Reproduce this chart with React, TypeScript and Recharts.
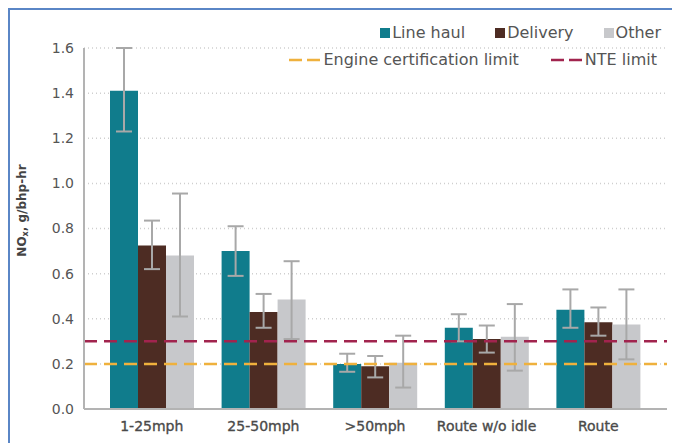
import React from 'react';
import { BarChart, Bar, XAxis, YAxis, CartesianGrid, ReferenceLine, ErrorBar } from 'recharts';

const categories = ['1-25mph', '25-50mph', '>50mph', 'Route w/o idle', 'Route'];
const yTicks = [0, 0.2, 0.4, 0.6, 0.8, 1.0, 1.2, 1.4, 1.6];

const lineHaul = [1.41, 0.70, 0.20, 0.36, 0.44];
const lineHaulLow = [1.23, 0.59, 0.165, 0.30, 0.36];
const lineHaulHigh = [1.60, 0.81, 0.245, 0.42, 0.53];

const delivery = [0.725, 0.43, 0.19, 0.31, 0.385];
const deliveryLow = [0.62, 0.36, 0.14, 0.25, 0.325];
const deliveryHigh = [0.835, 0.51, 0.235, 0.37, 0.45];

const other = [0.68, 0.485, 0.205, 0.32, 0.375];
const otherLow = [0.41, 0.31, 0.095, 0.17, 0.22];
const otherHigh = [0.955, 0.655, 0.325, 0.465, 0.53];

const engineLimit = 0.2;
const nteLimit = 0.3;

const C_LH = '#107c8c';
const C_DEL = '#4d2c23';
const C_OTH = '#c7c8cb';
const C_ENG = '#efb13d';
const C_NTE = '#a1244e';
const C_ERR = '#a8a8a8';
const FONT = '"DejaVu Sans", sans-serif';

const data = categories.map((c, i) => ({
  name: c,
  lh: lineHaul[i],
  lhErr: [lineHaul[i] - lineHaulLow[i], lineHaulHigh[i] - lineHaul[i]],
  del: delivery[i],
  delErr: [delivery[i] - deliveryLow[i], deliveryHigh[i] - delivery[i]],
  oth: other[i],
  othErr: [other[i] - otherLow[i], otherHigh[i] - other[i]],
}));

const txt: React.CSSProperties = { fontFamily: FONT, fontSize: 16, color: '#555', lineHeight: '18px', whiteSpace: 'nowrap' };

const LegendOverlay = () => (
  <div style={{ position: 'absolute', left: 0, top: 0, width: 672, height: 60, zIndex: 1, pointerEvents: 'none' }}>
    <div style={{ position: 'absolute', right: 19, top: 16, display: 'flex', alignItems: 'center', ...txt }}>
      {[['Line haul', C_LH], ['Delivery', C_DEL], ['Other', C_OTH]].map(([l, c], i) => (
        <div key={l} style={{ display: 'flex', alignItems: 'center', marginLeft: i ? 30 : 0 }}>
          <div style={{ width: 10, height: 10, background: c, marginRight: 2 }} />
          <span>{l}</span>
        </div>
      ))}
    </div>
    <div style={{ position: 'absolute', right: 23, top: 43, display: 'flex', alignItems: 'center', ...txt }}>
      {[['Engine certification limit', C_ENG], ['NTE limit', C_NTE]].map(([l, c], i) => (
        <div key={l} style={{ display: 'flex', alignItems: 'center', marginLeft: i ? 32 : 0 }}>
          <svg width={31} height={6} style={{ marginRight: 3 }}>
            <line x1={0} y1={3} x2={31} y2={3} stroke={c} strokeWidth={2.5} strokeDasharray="13 5" />
          </svg>
          <span>{l}</span>
        </div>
      ))}
    </div>
  </div>
);

const YLabel = (props: any) => {
  const vb = props.viewBox || { x: 0, y: 40, width: 76, height: 361 };
  const cx = vb.x + 14;
  const cy = vb.y + vb.height / 2 - 18;
  return (
    <text
      x={0}
      y={0}
      transform={`translate(${cx},${cy}) rotate(-90)`}
      textAnchor="middle"
      dominantBaseline="middle"
      fontFamily={FONT}
      fontSize={12}
      fontWeight={600}
      fill="#444"
    >
      NO<tspan fontSize={8} dy={3}>x</tspan>
      <tspan dy={-3}>, g/bhp-hr</tspan>
    </text>
  );
};

export default function App() {
  return (
    <div style={{ position: 'relative', width: 672, height: 435 }}>
      <div
        style={{
          position: 'absolute',
          left: 0,
          top: 0,
          width: 700,
          height: 460,
          borderTop: '2px solid #5a86c6',
          borderLeft: '2px solid #5a86c6',
          pointerEvents: 'none',
          zIndex: 2,
        }}
      />
      <LegendOverlay />
      <BarChart
        width={672}
        height={435}
        data={data}
        margin={{ top: 40, right: 13, left: 0, bottom: 4 }}
        barGap={0}
        barSize={28}
      >
        <CartesianGrid vertical={false} stroke="#cfcfcf" strokeDasharray="1 3" strokeWidth={1.5} />
        <XAxis
          dataKey="name"
          padding={{ left: 12, right: 13 }}
          tickLine={false}
          axisLine={{ stroke: '#b3b3b3', strokeWidth: 2 }}
          tick={{ fontFamily: FONT, fontSize: 14, fill: '#4a4a4a', stroke: '#4a4a4a', strokeWidth: 0.35 }}
          tickMargin={6}
          height={30}
          interval={0}
        />
        <YAxis
          domain={[0, 1.6]}
          ticks={yTicks}
          tickFormatter={(v: number) => v.toFixed(1)}
          tickLine={false}
          axisLine={{ stroke: '#b3b3b3', strokeWidth: 2 }}
          tick={{ fontFamily: FONT, fontSize: 14, fill: '#555' }}
          tickMargin={4}
          width={76}
          label={<YLabel />}
        />
        <Bar dataKey="lh" name="Line haul" fill={C_LH} isAnimationActive={false}>
          <ErrorBar dataKey="lhErr" width={8} strokeWidth={2} stroke={C_ERR} direction="y" />
        </Bar>
        <Bar dataKey="del" name="Delivery" fill={C_DEL} isAnimationActive={false}>
          <ErrorBar dataKey="delErr" width={8} strokeWidth={2} stroke={C_ERR} direction="y" />
        </Bar>
        <Bar dataKey="oth" name="Other" fill={C_OTH} isAnimationActive={false}>
          <ErrorBar dataKey="othErr" width={8} strokeWidth={2} stroke={C_ERR} direction="y" />
        </Bar>
        <ReferenceLine y={nteLimit} stroke={C_NTE} strokeWidth={2.5} strokeDasharray="13 7" />
        <ReferenceLine y={engineLimit} stroke={C_ENG} strokeWidth={2.5} strokeDasharray="13 7" />
      </BarChart>
    </div>
  );
}
